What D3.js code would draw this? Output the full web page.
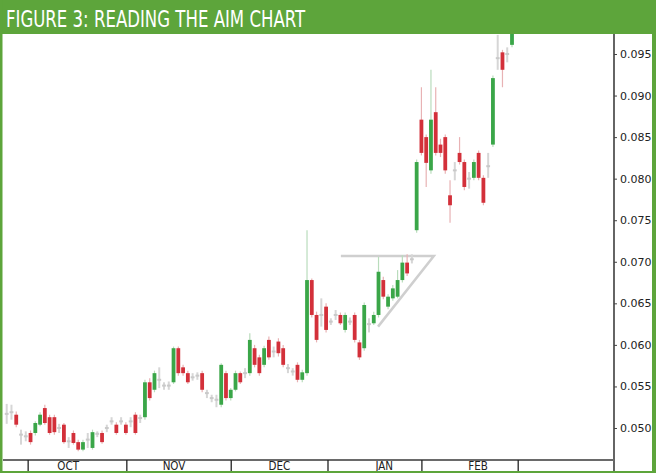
<!DOCTYPE html>
<html>
<head>
<meta charset="utf-8">
<script src="https://cdnjs.cloudflare.com/ajax/libs/d3/7.8.5/d3.min.js"></script>
<style>
  html, body { margin: 0; padding: 0; background: #fff; }
  svg { display: block; }
</style>
</head>
<body>
<svg id="svg1"></svg>
<script>
// chart data, one entry per trading day
const openVals = [0.0517,0.0519,0.0516,0.0492,0.0490,0.0494,0.0494,0.0504,0.0524,0.0513,
  0.0513,0.0500,0.0504,0.0484,0.0494,0.0483,0.0474,0.0486,0.0476,0.0493,
  0.0494,0.0500,0.0508,0.0504,0.0508,0.0504,0.0508,0.0516,0.0512,0.0513,
  0.0555,0.0546,0.0558,0.0551,0.0551,0.0555,0.0596,0.0573,0.0566,0.0561,
  0.0563,0.0566,0.0542,0.0536,0.0534,0.0528,0.0566,0.0536,0.0546,0.0566,
  0.0566,0.0566,0.0596,0.0585,0.0576,0.0606,0.0592,0.0604,0.0596,0.0572,
  0.0568,0.0576,0.0558,0.0566,0.0678,0.0636,0.0636,0.0646,0.0628,0.0636,
  0.0636,0.0618,0.0628,0.0636,0.0603,0.0596,0.0625,0.0626,0.0636,0.0678,
  0.0646,0.0656,0.0658,0.0678,0.0699,0.0703,0.0738,0.0871,0.0850,0.0810,
  0.0880,0.0841,0.0850,0.0780,0.0810,0.0831,0.0820,0.0800,0.0801,0.0831,
  0.0801,0.0815,0.0841,0.0945,0.0952,0.0950,0.0961];
const highVals = [0.0529,0.0528,0.0520,0.0498,0.0496,0.0497,0.0508,0.0519,0.0528,0.0516,
  0.0516,0.0505,0.0506,0.0489,0.0497,0.0486,0.0486,0.0494,0.0498,0.0496,
  0.0497,0.0504,0.0513,0.0507,0.0513,0.0507,0.0513,0.0519,0.0516,0.0558,
  0.0560,0.0569,0.0573,0.0555,0.0556,0.0598,0.0598,0.0576,0.0569,0.0566,
  0.0567,0.0569,0.0546,0.0540,0.0540,0.0578,0.0569,0.0548,0.0569,0.0568,
  0.0572,0.0614,0.0600,0.0588,0.0599,0.0610,0.0598,0.0608,0.0600,0.0577,
  0.0572,0.0579,0.0570,0.0738,0.0680,0.0640,0.0656,0.0650,0.0632,0.0642,
  0.0639,0.0639,0.0633,0.0639,0.0606,0.0651,0.0632,0.0640,0.0706,0.0682,
  0.0661,0.0672,0.0690,0.0708,0.0709,0.0709,0.0823,0.0910,0.0853,0.0931,
  0.0910,0.0848,0.0853,0.0798,0.0820,0.0850,0.0823,0.0808,0.0823,0.0834,
  0.0804,0.0831,0.0924,0.0973,0.0955,0.0958,0.0985];
const lowVals = [0.0505,0.0510,0.0501,0.0480,0.0484,0.0480,0.0491,0.0502,0.0504,0.0492,
  0.0492,0.0494,0.0481,0.0476,0.0480,0.0472,0.0472,0.0476,0.0474,0.0489,
  0.0481,0.0495,0.0504,0.0492,0.0504,0.0492,0.0501,0.0492,0.0506,0.0510,
  0.0533,0.0543,0.0548,0.0546,0.0546,0.0553,0.0563,0.0563,0.0553,0.0557,
  0.0558,0.0543,0.0536,0.0531,0.0525,0.0525,0.0533,0.0533,0.0544,0.0553,
  0.0560,0.0563,0.0573,0.0563,0.0573,0.0582,0.0585,0.0586,0.0573,0.0566,
  0.0563,0.0555,0.0555,0.0563,0.0633,0.0603,0.0622,0.0615,0.0624,0.0630,
  0.0624,0.0615,0.0624,0.0603,0.0582,0.0593,0.0615,0.0624,0.0633,0.0655,
  0.0643,0.0653,0.0656,0.0675,0.0683,0.0698,0.0735,0.0828,0.0790,0.0806,
  0.0828,0.0826,0.0806,0.0747,0.0798,0.0817,0.0786,0.0788,0.0798,0.0798,
  0.0768,0.0801,0.0838,0.0931,0.0910,0.0940,0.0958];
const closeVals = [0.0517,0.0519,0.0504,0.0492,0.0490,0.0483,0.0506,0.0516,0.0506,0.0494,
  0.0495,0.0500,0.0483,0.0484,0.0482,0.0474,0.0483,0.0486,0.0495,0.0493,
  0.0483,0.0500,0.0508,0.0494,0.0508,0.0494,0.0508,0.0494,0.0512,0.0555,
  0.0536,0.0566,0.0558,0.0551,0.0551,0.0596,0.0566,0.0566,0.0555,0.0561,
  0.0563,0.0546,0.0542,0.0536,0.0534,0.0576,0.0536,0.0546,0.0566,0.0555,
  0.0566,0.0606,0.0576,0.0566,0.0596,0.0585,0.0592,0.0590,0.0576,0.0572,
  0.0568,0.0558,0.0567,0.0678,0.0636,0.0606,0.0636,0.0618,0.0628,0.0636,
  0.0626,0.0636,0.0628,0.0606,0.0585,0.0648,0.0625,0.0636,0.0688,0.0658,
  0.0658,0.0668,0.0678,0.0699,0.0686,0.0703,0.0820,0.0831,0.0819,0.0871,
  0.0831,0.0831,0.0810,0.0768,0.0810,0.0820,0.0790,0.0800,0.0820,0.0801,
  0.0771,0.0815,0.0921,0.0945,0.0931,0.0950,0.0975];

// price axis ticks
const yTicks = [0.050, 0.055, 0.060, 0.065, 0.070, 0.075, 0.080, 0.085, 0.090, 0.095];

// month axis: boundaries and label spots in trading-day units
const monthNames = ["OCT", "NOV", "DEC", "JAN", "FEB"];
const monthEdges = [4.5, 25.2, 47.1, 67.4, 87.1, 107.3];
const monthLabelAt = [12.9, 35.1, 57.2, 79.2, 98.9];

// triangle drawn over the January consolidation: [day, price]
const trianglePts = [[70.1, 0.0707], [89.6, 0.0707], [77.9, 0.0622]];

const title = "FIGURE 3: READING THE AIM CHART";

// initialise layout variables
const width = 656;
const height = 473;
const plot = {left: 3, right: 614, top: 34, bottom: 460};
const green = "#5da53b";

const data = openVals.map(function(o, i) {
  return {day: i, open: o, high: highVals[i], low: lowVals[i], close: closeVals[i]};
});

const svg = d3.select('#svg1')
    .attr('width', width)
    .attr('height', height);

svg.append('rect')
    .attr('width', width)
    .attr('height', height)
    .attr('fill', '#fff');

// scales
const x = d3.scaleLinear()
    .domain([0, data.length - 1])
    .range([6.7, 512]);
const y = d3.scaleLinear()
    .domain([0.050, 0.095])
    .range([428, 54]);

// clip candles to the plot area
svg.append('clipPath')
    .attr('id', 'plotclip')
  .append('rect')
    .attr('x', plot.left)
    .attr('y', plot.top)
    .attr('width', plot.right - plot.left)
    .attr('height', plot.bottom - plot.top);

const chart = svg.append('g')
    .attr('clip-path', 'url(#plotclip)');

function kind(d) {
  if (d.close === d.open) return 'flat';
  return d.close > d.open ? 'up' : 'down';
}
const bodyColor = {up: '#3aa648', down: '#d3303a', flat: '#c9c9c9'};
const wickColor = {up: '#b9dcbc', down: '#e8b2b4', flat: '#d6d6d6'};

// triangle annotation (behind candles)
chart.append('path')
    .datum(trianglePts)
    .attr('d', d3.line()
        .x(function(d) { return x(d[0]); })
        .y(function(d) { return y(d[1]); }))
    .attr('fill', 'none')
    .attr('stroke', '#cfcfcf')
    .attr('stroke-width', 2.5);

// wicks
chart.selectAll('line.wick')
    .data(data)
    .enter()
    .append('line')
    .attr('class', 'wick')
    .attr('x1', function(d) { return x(d.day); })
    .attr('x2', function(d) { return x(d.day); })
    .attr('y1', function(d) { return y(d.high); })
    .attr('y2', function(d) { return y(d.low); })
    .attr('stroke', function(d) { return wickColor[kind(d)]; })
    .attr('stroke-width', function(d) { return kind(d) === 'flat' ? 2 : 1.2; });

// bodies
const bodyW = 3.8;
chart.selectAll('rect.body')
    .data(data)
    .enter()
    .append('rect')
    .attr('class', 'body')
    .attr('x', function(d) { return x(d.day) - bodyW / 2; })
    .attr('y', function(d) {
      return kind(d) === 'flat' ? y(d.open) - 1 : y(Math.max(d.open, d.close));
    })
    .attr('width', bodyW)
    .attr('height', function(d) {
      return kind(d) === 'flat' ? 2 : Math.abs(y(d.open) - y(d.close));
    })
    .attr('fill', function(d) { return bodyColor[kind(d)]; });

// right price axis
svg.append('line')
    .attr('x1', plot.right).attr('x2', plot.right)
    .attr('y1', plot.top).attr('y2', 471)
    .attr('stroke', '#111')
    .attr('stroke-width', 1.3);

const yAxis = svg.append('g')
    .attr('transform', 'translate(' + plot.right + ',0)')
    .call(d3.axisRight(y)
        .tickValues(yTicks)
        .tickFormat(d3.format('.3f'))
        .tickSize(3)
        .tickPadding(3));
yAxis.select('.domain').remove();
yAxis.selectAll('line').attr('stroke', '#444');
yAxis.selectAll('text')
    .attr('fill', '#222')
    .style('font-family', '"DejaVu Sans", Verdana, sans-serif')
    .style('font-size', '11px');

// bottom month axis
svg.append('line')
    .attr('x1', plot.left).attr('x2', plot.right)
    .attr('y1', plot.bottom).attr('y2', plot.bottom)
    .attr('stroke', '#6a6a6a')
    .attr('stroke-width', 2);

svg.selectAll('line.sep')
    .data(monthEdges)
    .enter()
    .append('line')
    .attr('class', 'sep')
    .attr('x1', function(d) { return x(d); })
    .attr('x2', function(d) { return x(d); })
    .attr('y1', plot.bottom)
    .attr('y2', 471)
    .attr('stroke', '#222')
    .attr('stroke-width', 1.3);

svg.selectAll('text.month')
    .data(monthNames)
    .enter()
    .append('text')
    .attr('class', 'month')
    .attr('x', function(d, i) { return x(monthLabelAt[i]); })
    .attr('y', 470)
    .attr('text-anchor', 'middle')
    .attr('fill', '#222')
    .style('font-family', '"Liberation Sans Narrow", "DejaVu Sans Condensed", sans-serif')
    .style('font-size', '11.5px')
    .text(function(d) { return d; });

// green frame and title bar
svg.append('rect')
    .attr('x', 0).attr('y', 0)
    .attr('width', width).attr('height', plot.top)
    .attr('fill', green);
svg.append('rect')
    .attr('x', 0).attr('y', 0)
    .attr('width', 2.5).attr('height', height)
    .attr('fill', green);
svg.append('rect')
    .attr('x', 652).attr('y', 0)
    .attr('width', 4).attr('height', height)
    .attr('fill', green);
svg.append('rect')
    .attr('x', 0).attr('y', 471)
    .attr('width', width).attr('height', 2)
    .attr('fill', green);

svg.append('text')
    .attr('x', 6)
    .attr('y', 27)
    .attr('fill', '#fff')
    .attr('textLength', 299)
    .attr('lengthAdjust', 'spacingAndGlyphs')
    .style('font-family', '"Liberation Sans Narrow", "DejaVu Sans Condensed", sans-serif')
    .style('font-size', '23px')
    .text(title);
</script>
</body>
</html>
